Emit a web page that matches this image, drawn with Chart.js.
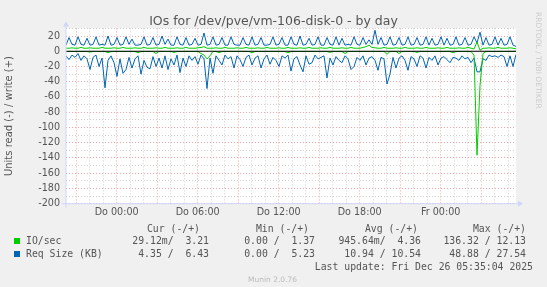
<!DOCTYPE html>
<html><head><meta charset="utf-8">
<script src="https://cdn.jsdelivr.net/npm/chart.js@4.4.1/dist/chart.umd.min.js"></script>
<style>
html,body{margin:0;padding:0;background:#F0F0F0;}
#wrap{position:relative;width:547px;height:287px;overflow:hidden;background:#F0F0F0;}
canvas{position:absolute;left:0;top:0;}
.t{position:absolute;white-space:pre;font-family:"DejaVu Sans Mono",monospace;font-size:9.8px;color:#555;line-height:12px;}
.r{text-align:right;}
.sq{position:absolute;width:6px;height:6px;}
</style></head><body>
<div id="wrap">
<canvas id="c" width="547" height="287"></canvas>
</div>
<script>
// ---- data ----
const chartTitle = "IOs for /dev/pve/vm-106-disk-0 - by day";
const yAxisTitle = "Units read (-) / write (+)";
const timeStartHours = -3.75;      // hours relative to Do 00:00
const timeStepHours = 2 / 9;       // 13.3 minutes per sample
const xTickHours = [0, 6, 12, 18, 24];
const xTickLabels = ["Do 00:00", "Do 06:00", "Do 12:00", "Do 18:00", "Fr 00:00"];
const yTickValues = [20, 0, -20, -40, -60, -80, -100, -120, -140, -160, -180, -200];
const seriesNames = ["IO/sec", "Req Size (KB)"];
const seriesColors = ["#00CC00", "#0066B3"];

// IO/sec write (+)
const ioWrite = [
 4,4,4.5,4,4,5,4,4,4.5,4,
 4,4,5,4,4,4,4.5,4,4,5,
 4,4,4,4.5,4,4,5,4,4,4,
 4.5,4,4,5,4,4,4,4.5,4,4,
 5,4,4,4,4.5,5,6,4,4,4,
 4.5,4,4,5,4,4,4,4.5,4,4,
 5,4,4,4,4.5,4,4,5,4,4,
 4,4.5,4,4,5,4,4,4,4.5,4,
 4,5,4,4,4,4.5,4,4,5,4,
 4,4,4.5,4,4,5,4,4,4,5,
 6,8,5,4.5,4,4,5,4,4,4,
 4.5,4,4,5,4,4,4,4.5,4,4,
 5,4,4,4,4.5,4,4,5,4,4,
 4,4.5,4,4,5,4,3,12.13,1.4,4,
 4,4.5,4,4,5,4,4,4,4.5,4,
 3.21];
// IO/sec read (-), stored as magnitudes
const ioRead = [
 .3,.3,.3,.3,.3,.3,.3,.3,1,.3,
 .3,.3,.3,.3,2,.3,.3,.3,.3,.3,
 .3,.3,.3,.3,2,.3,.3,.3,.3,.3,
 3,.3,.3,.3,.3,.3,1.5,.3,.3,.3,
 .3,.3,.3,.3,.3,3,5,10,6,.3,
 .3,2,.3,.3,.3,.3,.3,.3,.3,.3,
 .3,.3,2,.3,.3,.3,.3,.3,.3,.3,
 .3,.3,.3,.3,2,.3,.3,.3,.3,.3,
 .3,.3,.3,.3,.3,.3,.3,.3,1.5,.3,
 .3,.3,.3,3,.3,.3,.3,.3,.3,.3,
 .3,.3,.3,.3,.3,.3,.3,4,.3,.3,
 .3,3,.3,.3,.3,.3,.3,1.5,.3,.3,
 .3,.3,.3,.3,.3,.3,.3,.3,.3,2,
 .3,.3,.3,.3,.3,.3,5,136.32,45,3,
 .3,.3,.3,.3,.3,.3,.3,.3,.3,.3,
 .03];
// Req Size (KB) write (+)
const reqWrite = [
 8,18,9,8,19,9,8,17,8,9,
 19,8,9,8,20,8,9,18,8,9,
 19,9,16,8,8,9,19,8,9,18,
 8,9,20,9,16,8,8,19,9,8,
 18,8,9,17,8,9,24,8,9,19,
 8,9,18,8,8,19,9,8,8,18,
 9,8,19,8,9,18,8,8,9,19,
 8,9,18,8,8,19,9,8,20,8,
 9,17,8,9,19,8,8,18,9,8,
 19,8,17,8,9,8,19,9,8,18,
 9,15,9,27.54,9,18,8,9,19,8,
 9,18,8,9,19,8,9,18,8,9,
 19,8,17,8,9,19,8,17,8,9,
 19,8,9,18,8,9,19,11,25,8,
 18,8,9,19,8,17,8,9,19,8,
 6.43];
// Req Size (KB) read (-), stored as magnitudes
const reqRead = [
 6,11,5,8,3,12,6,10,24,8,
 5,20,9,48,12,6,15,33,10,29,
 24,8,22,10,6,30,12,21,23,7,
 20,9,22,6,24,10,18,5,28,9,
 20,6,12,7,17,5,10,48.88,9,29,
 6,12,18,5,10,7,22,6,11,20,
 8,5,18,9,6,22,10,5,17,8,
 12,20,6,9,5,26,10,7,18,27,
 6,17,15,5,10,8,6,35,9,18,
 7,12,15,6,10,24,20,8,12,6,
 18,9,7,12,25,8,10,43,30,8,
 22,9,6,12,25,7,10,20,6,9,
 22,8,12,6,18,9,7,11,15,8,
 9,12,6,10,8,15,9,27,27,10,
 12,5,7,6,8,5,7,20,6,20,
 4.35];

const legendRows = [
 ["29.12m/  3.21", "0.00 /  1.37", "945.64m/  4.36", "136.32 / 12.13"],
 [" 4.35 /  6.43", "0.00 /  5.23", "10.94 / 10.54", "48.88 / 27.54"]
];
const legendHeaders = ["Cur (-/+)", "Min (-/+)", "Avg (-/+)", "Max (-/+)"];
const lastUpdate = "Last update: Fri Dec 26 05:35:04 2025";
const versionText = "Munin 2.0.76";
const watermark = "RRDTOOL / TOBI OETIKER";

// ---- build ----
const xMin = timeStartHours;
const xMax = timeStartHours + (ioWrite.length - 1) * timeStepHours;
const hourTicks = [];
for (let h = Math.ceil(xMin); h <= Math.floor(xMax); h++) hourTicks.push(h);
const yGridTicks = [];
for (let v = -200; v <= 30; v += 10) yGridTicks.push(v);

function pts(arr, sign) {
  return arr.map((v, i) => ({ x: timeStartHours + i * timeStepHours, y: sign * v }));
}
function ds(label, arr, sign, color) {
  return { label, data: pts(arr, sign), borderColor: color, backgroundColor: color,
           borderWidth: 1, pointRadius: 0, tension: 0, fill: false };
}

const GRID = 'rgba(150,150,150,0.45)';
const MGRID = 'rgba(230,80,80,0.5)';
const AXIS = '#CFD6F8';

const bgPlugin = {
  id: 'bg',
  beforeDraw(chart) {
    const { ctx, chartArea: a } = chart;
    ctx.save();
    ctx.fillStyle = '#F0F0F0';
    ctx.fillRect(0, 0, chart.width, chart.height);
    ctx.fillStyle = '#FFFFFF';
    ctx.fillRect(a.left, a.top, a.right - a.left, a.bottom - a.top);
    ctx.restore();
  },
  afterDatasetsDraw(chart) {
    const { ctx, chartArea: a, scales } = chart;
    const y0 = scales.y.getPixelForValue(0);
    ctx.save();
    ctx.strokeStyle = '#000000';
    ctx.lineWidth = 1.1;
    ctx.beginPath(); ctx.moveTo(a.left, y0); ctx.lineTo(a.right, y0); ctx.stroke();
    // axes
    ctx.strokeStyle = AXIS; ctx.fillStyle = AXIS; ctx.lineWidth = 1;
    ctx.beginPath(); ctx.moveTo(a.left - 4, a.bottom); ctx.lineTo(a.right + 4, a.bottom); ctx.stroke();
    ctx.beginPath(); ctx.moveTo(a.left, a.bottom + 4); ctx.lineTo(a.left, a.top - 4); ctx.stroke();
    ctx.beginPath(); ctx.moveTo(a.right + 2, a.bottom - 3); ctx.lineTo(a.right + 2, a.bottom + 3); ctx.lineTo(a.right + 7, a.bottom); ctx.closePath(); ctx.fill();
    ctx.beginPath(); ctx.moveTo(a.left - 3, a.top - 2); ctx.lineTo(a.left + 3, a.top - 2); ctx.lineTo(a.left, a.top - 7); ctx.closePath(); ctx.fill();
    ctx.restore();
  }
};

const tickFont = { family: 'DejaVu Sans', size: 9.6 };

new Chart(document.getElementById('c'), {
  type: 'line',
  data: { datasets: [
    ds(seriesNames[0] + ' read', ioRead, -1, seriesColors[0]),
    ds(seriesNames[0] + ' write', ioWrite, 1, seriesColors[0]),
    ds(seriesNames[1] + ' read', reqRead, -1, seriesColors[1]),
    ds(seriesNames[1] + ' write', reqWrite, 1, seriesColors[1])
  ]},
  options: {
    animation: false, responsive: false, devicePixelRatio: 1,
    layout: { padding: { left: 0, right: 0, top: 0, bottom: 63.3 } },
    plugins: {
      legend: { display: false }, tooltip: { enabled: false },
      title: { display: true, text: chartTitle, color: '#555',
               font: { family: 'DejaVu Sans', size: 12.5, weight: 'normal', lineHeight: 1.0 },
               padding: { top: 15.2, bottom: 0.7 } }
    },
    scales: {
      x: {
        type: 'linear', min: xMin, max: xMax,
        afterBuildTicks: s => { s.ticks = hourTicks.map(v => ({ value: v })); },
        afterFit: s => { s.height = 20; },
        ticks: { autoSkip: false, maxRotation: 0, minRotation: 0, padding: 3, color: '#555', font: tickFont,
                 callback: v => { const k = xTickHours.indexOf(v); return k >= 0 ? xTickLabels[k] : ''; } },
        grid: { drawTicks: false, lineWidth: 1, color: c => (c.tick && c.tick.value % 3 === 0) ? MGRID : GRID },
        border: { display: false, dash: [1, 2] }
      },
      y: {
        type: 'linear', min: -200, max: 30,
        afterBuildTicks: s => { s.ticks = yGridTicks.map(v => ({ value: v })); },
        afterFit: s => { s.width = 66; },
        ticks: { autoSkip: false, padding: 6, color: '#555', font: tickFont,
                 callback: v => yTickValues.includes(v) ? String(v) : '' },
        grid: { drawTicks: false, lineWidth: 1, color: c => (c.tick && c.tick.value % 20 === 0) ? MGRID : GRID },
        border: { display: false, dash: [1, 2] },
        title: { display: true, text: yAxisTitle, color: '#555', font: { family: 'DejaVu Sans', size: 10 }, padding: { top: 3, bottom: 0 } }
      },
      yRight: {
        type: 'linear', position: 'right', min: -200, max: 30, display: true,
        afterFit: s => { s.width = 31; },
        ticks: { display: false }, grid: { display: false, drawOnChartArea: false }, border: { display: false }
      }
    }
  },
  plugins: [bgPlugin]
});

// ---- legend text (real text) ----
const wrap = document.getElementById('wrap');
function addText(txt, left, right, top, cls, style) {
  const d = document.createElement('div');
  d.className = 't' + (cls ? ' ' + cls : '');
  d.textContent = txt;
  if (left !== null) d.style.left = left + 'px';
  if (right !== null) d.style.right = (547 - right) + 'px';
  d.style.top = top + 'px';
  if (style) Object.assign(d.style, style);
  wrap.appendChild(d);
  return d;
}
const headerRight = [200, 309, 418, 526];
const colRight = [209, 315, 421, 526];
legendHeaders.forEach((h, i) => addText(h, null, headerRight[i], 223, 'r'));
const rowTops = [235.4, 248.3];
seriesNames.forEach((n, r) => {
  const sq = document.createElement('div');
  sq.className = 'sq'; sq.style.left = '14px'; sq.style.top = (rowTops[r] + 3) + 'px';
  sq.style.background = seriesColors[r];
  wrap.appendChild(sq);
  addText(n, 26, null, rowTops[r]);
  legendRows[r].forEach((v, i) => addText(v, null, colRight[i], rowTops[r], 'r'));
});
addText(lastUpdate, null, 533, 261.2, 'r');
addText(versionText, 248, null, 274, '', { fontFamily: 'DejaVu Sans', fontSize: '7.5px', color: '#bbb' });
const wm = addText(watermark, 534, null, 12, '', { fontFamily: 'DejaVu Sans', fontSize: '7.5px', color: '#ccc',
  writingMode: 'vertical-rl', lineHeight: '9px' });
</script>
</body></html>
